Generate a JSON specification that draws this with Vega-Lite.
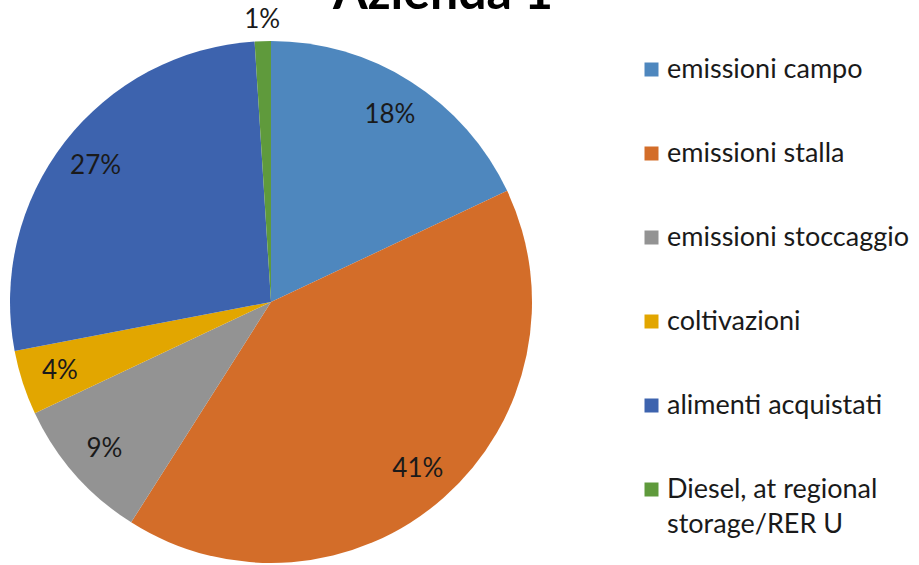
{
  "$schema": "https://vega.github.io/schema/vega-lite/v6.json",
  "autosize": {"type": "none"},
  "width": 522,
  "height": 522,
  "padding": {"left": 10, "top": 41, "right": 377, "bottom": 2},
  "background": "white",
  "config": {"style": {"guide-label": {"lineHeight": 35}}},
  "title": {
    "text": "Azienda 1",
    "font": "Lato",
    "fontSize": 50,
    "fontWeight": "bold",
    "color": "#000000",
    "anchor": "middle",
    "frame": "group",
    "baseline": "alphabetic",
    "dx": 172,
    "offset": -52
  },
  "data": {
    "values": [
      {"ord": 1, "voce": "emissioni campo", "quota": 0.18},
      {"ord": 2, "voce": "emissioni stalla", "quota": 0.41},
      {"ord": 3, "voce": "emissioni stoccaggio", "quota": 0.09},
      {"ord": 4, "voce": "coltivazioni", "quota": 0.04},
      {"ord": 5, "voce": "alimenti acquistati", "quota": 0.27},
      {"ord": 6, "voce": "Diesel, at regional storage/RER U", "quota": 0.01}
    ]
  },
  "encoding": {
    "theta": {"field": "quota", "type": "quantitative", "stack": true},
    "order": {"field": "ord", "type": "quantitative"}
  },
  "layer": [
    {
      "mark": {"type": "arc", "outerRadius": 261, "stroke": null},
      "encoding": {
        "color": {
          "field": "voce",
          "type": "nominal",
          "sort": null,
          "scale": {
            "domain": ["emissioni campo", "emissioni stalla", "emissioni stoccaggio", "coltivazioni", "alimenti acquistati", "Diesel, at regional storage/RER U"],
            "range": ["#4E87BE", "#D36D29", "#939393", "#E2A600", "#3D63AE", "#5F9A3C"]
          },
          "legend": {
            "title": null,
            "orient": "none",
            "legendX": 628,
            "legendY": 15,
            "symbolType": "square",
            "symbolSize": 196,
            "symbolStrokeWidth": 0,
            "labelFont": "Lato",
            "labelFontSize": 27,
            "labelColor": "#1a1a1a",
            "labelOffset": 2,
            "labelLimit": 400,
            "rowPadding": 56,
            "labelExpr": "datum.label == 'Diesel, at regional storage/RER U' ? ['Diesel, at regional', 'storage/RER U'] : datum.label"
          }
        }
      }
    },
    {
      "mark": {"type": "text", "font": "Lato", "fontSize": 26, "color": "#1a1a1a", "align": "center", "baseline": "middle"},
      "encoding": {
        "radius": {"value": 222},
        "opacity": {"condition": {"test": "datum.quota < 0.02", "value": 0}, "value": 1},
        "text": {"field": "quota", "type": "quantitative", "format": ".0%"}
      }
    },
    {
      "mark": {"type": "text", "font": "Lato", "fontSize": 26, "color": "#1a1a1a", "align": "center", "baseline": "middle"},
      "encoding": {
        "radius": {"value": 282},
        "opacity": {"condition": {"test": "datum.quota < 0.02", "value": 1}, "value": 0},
        "text": {"field": "quota", "type": "quantitative", "format": ".0%"}
      }
    }
  ]
}
